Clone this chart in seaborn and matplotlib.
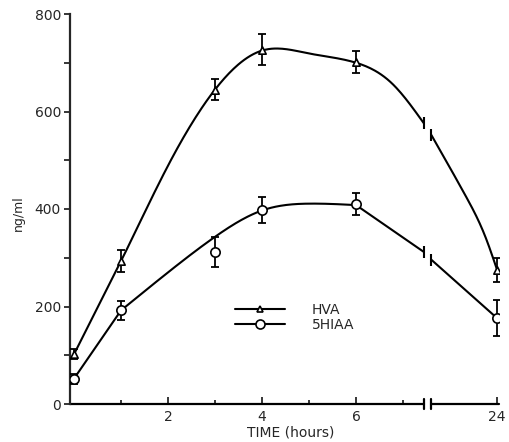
import numpy as np
import pandas as pd
import matplotlib
matplotlib.use("Agg")
import matplotlib.pyplot as plt
from matplotlib.lines import Line2D
import seaborn as sns

# ---- data ----
time_labels = ["0", "1", "3", "4", "6", "24"]
time_pos = [0, 1, 3, 4, 6, 9]          # 24 h drawn after the axis break
hva = [102, 293, 645, 727, 702, 275]
hva_err = [10, 22, 21, 31, 22, 24]
hiaa = [52, 192, 312, 398, 410, 176]
hiaa_err = [10, 20, 30, 26, 22, 37]

# hand-drawn curves (knots); each piece is
# (kind, x-knots, y-knots, start slope or None); broken at the axis break
hva_pieces = [
    [("line", [0, 1], [102, 293], None),
     ("spline", [1, 2, 3, 4, 5, 6, 6.77, 7.44], [293, 489, 645, 725, 719, 700, 657, 576], 195)],
    [("spline", [7.6, 8.33, 8.75, 9], [552, 427, 343, 275], None)],
]
hiaa_pieces = [
    [("line", [0, 1], [52, 192], None),
     ("spline", [1, 2, 3, 4, 5, 6], [192, 270, 343, 397, 411, 408], None),
     ("line", [6, 7.44], [408, 312], None)],
    [("line", [7.6, 9], [296, 176], None)],
]

x_ticks = [2, 4, 6, 9]
x_ticklabels = ["2", "4", "6", "24"]
x_minor = [1, 3, 5, 7]
y_ticks = [0, 200, 400, 600, 800]
y_minor = [100, 300, 500, 700]
break_a, break_b = 7.45, 7.6


def cubic_spline(xk, yk, s0=None, n=200):
    """Cubic spline, natural ends unless a start slope s0 is given (clamped start)."""
    xk = np.asarray(xk, float)
    yk = np.asarray(yk, float)
    m = len(xk)
    xs = np.linspace(xk[0], xk[-1], n)
    if m < 3:
        return xs, np.interp(xs, xk, yk)
    h = np.diff(xk)
    A = np.zeros((m, m))
    r = np.zeros(m)
    if s0 is None:
        A[0, 0] = 1
    else:
        A[0, 0] = 2 * h[0]
        A[0, 1] = h[0]
        r[0] = 6 * ((yk[1] - yk[0]) / h[0] - s0)
    A[-1, -1] = 1
    for i in range(1, m - 1):
        A[i, i - 1] = h[i - 1]
        A[i, i] = 2 * (h[i - 1] + h[i])
        A[i, i + 1] = h[i]
        r[i] = 6 * ((yk[i + 1] - yk[i]) / h[i] - (yk[i] - yk[i - 1]) / h[i - 1])
    M = np.linalg.solve(A, r)
    idx = np.clip(np.searchsorted(xk, xs) - 1, 0, m - 2)
    x0, x1 = xk[idx], xk[idx + 1]
    hh = x1 - x0
    a = (x1 - xs) / hh
    b = (xs - x0) / hh
    ys = a * yk[idx] + b * yk[idx + 1] + ((a**3 - a) * M[idx] + (b**3 - b) * M[idx + 1]) * hh**2 / 6
    return xs, ys


def build(pieces):
    xs_all, ys_all = [], []
    for kind, px, py, s0 in pieces:
        if kind == "line":
            xs, ys = np.asarray(px, float), np.asarray(py, float)
        else:
            xs, ys = cubic_spline(px, py, s0)
        xs_all.append(xs)
        ys_all.append(ys)
    return np.concatenate(xs_all), np.concatenate(ys_all)


sns.set_style("ticks")
plt.rcParams["font.family"] = ["DejaVu Sans"]

fig = plt.figure(figsize=(5.09, 4.42), dpi=100)
ax = fig.add_axes([70 / 509, 38 / 442, 429 / 509, 390 / 442])

lw = 1.5
rows = []
for name, segs in [("HVA", hva_pieces), ("5HIAA", hiaa_pieces)]:
    for k, pieces in enumerate(segs):
        xs, ys = build(pieces)
        rows.append(pd.DataFrame({"x": xs, "y": ys, "seg": f"{name}{k}"}))
curves = pd.concat(rows, ignore_index=True)
for seg, d in curves.groupby("seg"):
    sns.lineplot(data=d, x="x", y="y", color="black", lw=lw, ax=ax, sort=False,
                 estimator=None, legend=False, zorder=2)
    # little break marks at the ends of the curve segments
    end = d.iloc[-1] if seg.endswith("0") else d.iloc[0]
    ax.plot([end["x"]], [end["y"]], marker="|", ms=9, mew=lw, color="black", zorder=3)

pts = pd.DataFrame({"pos": time_pos, "HVA": hva, "HVA_err": hva_err,
                    "5HIAA": hiaa, "5HIAA_err": hiaa_err})
ax.errorbar(pts["pos"], pts["HVA"], yerr=pts["HVA_err"], fmt="none", ecolor="black",
            elinewidth=1.3, capsize=3.2, capthick=1.3, zorder=3)
ax.errorbar(pts["pos"], pts["5HIAA"], yerr=pts["5HIAA_err"], fmt="none", ecolor="black",
            elinewidth=1.3, capsize=3.2, capthick=1.3, zorder=3)
sns.scatterplot(data=pts, x="pos", y="HVA", marker="^", s=28, facecolor="white",
                edgecolor="black", linewidth=1.2, ax=ax, zorder=4)
sns.scatterplot(data=pts, x="pos", y="5HIAA", marker="o", s=45, facecolor="white",
                edgecolor="black", linewidth=1.2, ax=ax, zorder=4)

ax.set_xlim(-0.085, 9.04)
ax.set_ylim(0, 800)

ax.set_xticks(x_ticks)
ax.set_xticklabels(x_ticklabels)
ax.set_xticks(x_minor, minor=True)
ax.set_yticks(y_ticks)
ax.set_yticks(y_minor, minor=True)
ax.tick_params(axis="x", which="major", direction="in", length=5, width=1.3, labelsize=10, pad=4)
ax.tick_params(axis="x", which="minor", direction="in", length=3, width=1.3)
ax.tick_params(axis="y", which="major", direction="out", length=4, width=1.3, labelsize=10, pad=2.5)
ax.tick_params(axis="y", which="minor", direction="out", length=4, width=1.3)

for s in ["top", "right", "bottom"]:
    ax.spines[s].set_visible(False)
ax.spines["left"].set_linewidth(1.6)

# broken x axis
tr = ax.get_xaxis_transform()
ax.plot([-0.085, break_a], [0, 0], color="black", lw=1.6, transform=tr, clip_on=False)
ax.plot([break_b, 9.04], [0, 0], color="black", lw=1.6, transform=tr, clip_on=False)
for bx in (break_a, break_b):
    ax.plot([bx, bx], [-0.014, 0.014], color="black", lw=1.6, transform=tr, clip_on=False)

ax.set_xlabel("TIME (hours)", fontsize=10)
ax.xaxis.set_label_coords(0.515, -0.055)
ax.set_ylabel("ng/ml", fontsize=9)
ax.yaxis.set_label_coords(-0.105, 0.49)

handles = [Line2D([], [], color="black", lw=lw, marker="^", ms=5, mfc="white", mec="black", mew=1.2),
           Line2D([], [], color="black", lw=lw, marker="o", ms=6.5, mfc="white", mec="black", mew=1.2)]
ax.legend(handles, ["HVA", "5HIAA"], loc="upper left", bbox_to_anchor=(0.385, 0.26),
          frameon=False, handlelength=3.6, handletextpad=1.9, labelspacing=0.1,
          borderpad=0, borderaxespad=0, fontsize=10)

fig.savefig("out.png", dpi=100)
